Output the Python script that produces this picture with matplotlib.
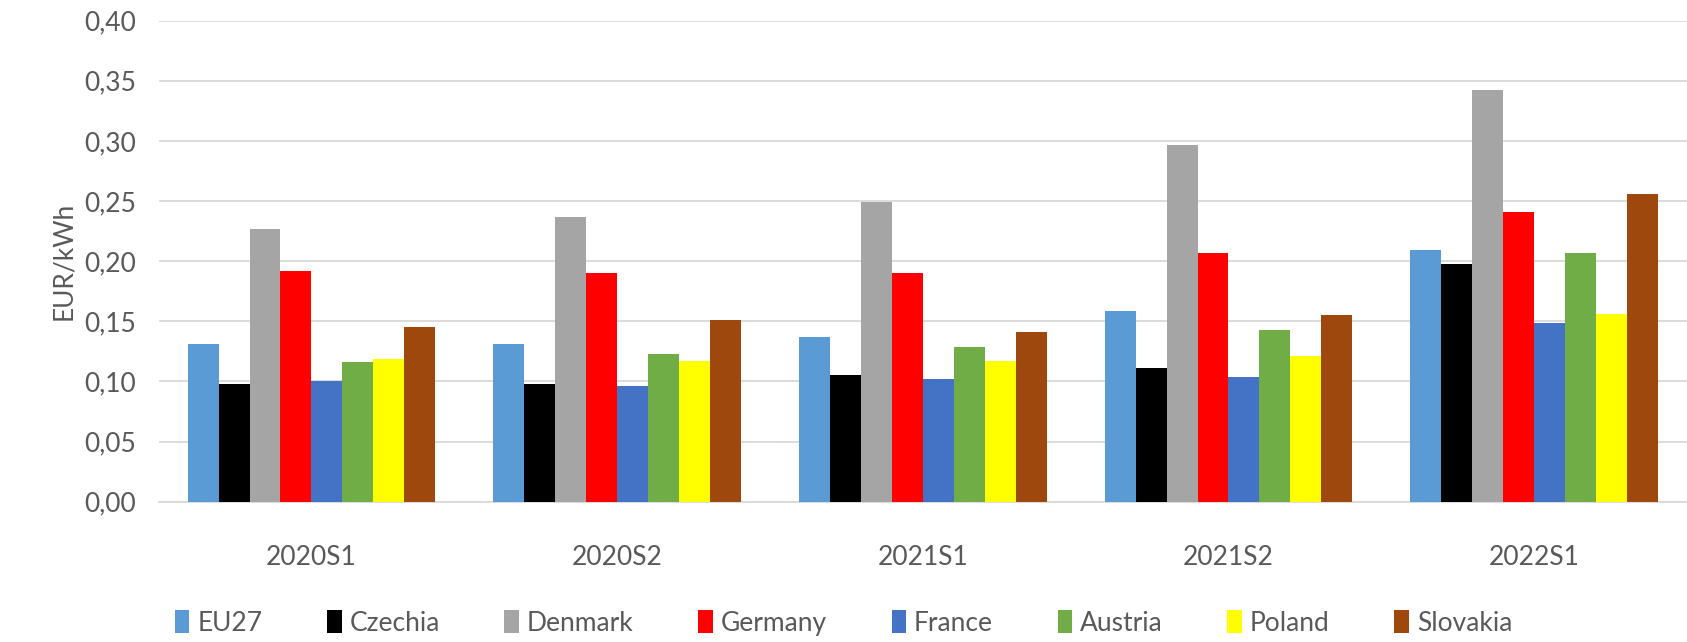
import matplotlib
matplotlib.use("Agg")
import matplotlib.pyplot as plt
import numpy as np

# ── Données (EUR/kWh) ─────────────────────────────────────────────
periods = ["2020S1", "2020S2", "2021S1", "2021S2", "2022S1"]
countries = ["EU27", "Czechia", "Denmark", "Germany", "France", "Austria", "Poland", "Slovakia"]

eu27     = [0.131, 0.131, 0.137, 0.159, 0.209]
czechia  = [0.098, 0.098, 0.105, 0.111, 0.198]
denmark  = [0.227, 0.237, 0.249, 0.297, 0.342]
germany  = [0.192, 0.190, 0.190, 0.207, 0.241]
france   = [0.100, 0.096, 0.102, 0.104, 0.149]
austria  = [0.116, 0.123, 0.129, 0.143, 0.207]
poland   = [0.119, 0.117, 0.117, 0.121, 0.156]
slovakia = [0.145, 0.151, 0.141, 0.155, 0.256]

series = [eu27, czechia, denmark, germany, france, austria, poland, slovakia]
colors = ["#5B9BD5", "#000000", "#A5A5A5", "#FF0000", "#4472C4", "#70AD47", "#FFFF00", "#9E480E"]

TEXT = "#595959"
GRID = "#D9D9D9"
FS = 19

plt.rcParams["font.family"] = ["Lato", "DejaVu Sans"]

fig = plt.figure(figsize=(16.87, 6.42), dpi=100)
ax = fig.add_axes([0.094, 0.2185, 0.906, 0.7493])

x = np.arange(len(periods))
n = len(series)
group_w = 0.81
bw = group_w / n

for i, (name, vals, col) in enumerate(zip(countries, series, colors)):
    offs = -group_w / 2 + bw * (i + 0.5)
    ax.bar(x + offs, vals, width=bw, color=col, label=name, zorder=3)

ax.set_xlim(-0.5, len(periods) - 0.5)
ax.set_ylim(0, 0.40)
yt = np.arange(0, 0.401, 0.05)
ax.set_yticks(yt)
ax.set_yticklabels([f"{v:.2f}".replace(".", ",") for v in yt])
ax.set_xticks(x)
ax.set_xticklabels(periods)

ax.grid(axis="y", color=GRID, linewidth=1.3, zorder=0)
for s in ["top", "right", "left"]:
    ax.spines[s].set_visible(False)
ax.spines["bottom"].set_color(GRID)
ax.spines["bottom"].set_linewidth(1.3)
ax.tick_params(axis="both", length=0, colors=TEXT, labelsize=FS)
ax.tick_params(axis="y", pad=16)
ax.tick_params(axis="x", pad=31)

ax.set_ylabel("EUR/kWh", fontsize=FS, color=TEXT, labelpad=6)

fig.legend(loc="center", bbox_to_anchor=(0.5, 0.03), ncol=n, frameon=False,
           fontsize=FS, labelcolor=TEXT, handlelength=0.55, handleheight=1.0,
           handletextpad=0.3, columnspacing=2.45)

fig.savefig("out.png", dpi=100)
